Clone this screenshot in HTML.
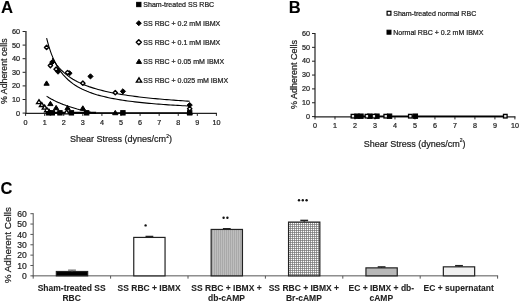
<!DOCTYPE html>
<html><head><meta charset="utf-8"><title>Figure</title>
<style>html,body{margin:0;padding:0;background:#fff;}body{width:520px;height:302px;overflow:hidden;font-family:"Liberation Sans",sans-serif;}svg{display:block;position:absolute;left:0;top:0;filter:blur(0.35px);}</style>
</head><body>
<svg width="520" height="302" viewBox="0 0 520 302" font-family="Liberation Sans, sans-serif"><text x="1.10" y="13.00" font-size="16.7" text-anchor="start" font-weight="bold" fill="#000" stroke="#000" stroke-width="0.08" >A</text>
<line x1="25.95" y1="31.00" x2="25.95" y2="113.90" stroke="#3a3a3a" stroke-width="1.4"/>
<line x1="25.30" y1="113.40" x2="216.90" y2="113.40" stroke="#222" stroke-width="1.1"/>
<line x1="22.60" y1="113.10" x2="25.60" y2="113.10" stroke="#222" stroke-width="1"/>
<text x="20.00" y="115.60" font-size="7.3" text-anchor="end" font-weight="normal" fill="#222" stroke="#222" stroke-width="0.22" >0</text>
<line x1="22.60" y1="99.50" x2="25.60" y2="99.50" stroke="#222" stroke-width="1"/>
<text x="20.00" y="102.00" font-size="7.3" text-anchor="end" font-weight="normal" fill="#222" stroke="#222" stroke-width="0.22" >10</text>
<line x1="22.60" y1="85.90" x2="25.60" y2="85.90" stroke="#222" stroke-width="1"/>
<text x="20.00" y="88.40" font-size="7.3" text-anchor="end" font-weight="normal" fill="#222" stroke="#222" stroke-width="0.22" >20</text>
<line x1="22.60" y1="72.30" x2="25.60" y2="72.30" stroke="#222" stroke-width="1"/>
<text x="20.00" y="74.80" font-size="7.3" text-anchor="end" font-weight="normal" fill="#222" stroke="#222" stroke-width="0.22" >30</text>
<line x1="22.60" y1="58.70" x2="25.60" y2="58.70" stroke="#222" stroke-width="1"/>
<text x="20.00" y="61.20" font-size="7.3" text-anchor="end" font-weight="normal" fill="#222" stroke="#222" stroke-width="0.22" >40</text>
<line x1="22.60" y1="45.10" x2="25.60" y2="45.10" stroke="#222" stroke-width="1"/>
<text x="20.00" y="47.60" font-size="7.3" text-anchor="end" font-weight="normal" fill="#222" stroke="#222" stroke-width="0.22" >50</text>
<line x1="22.60" y1="31.50" x2="25.60" y2="31.50" stroke="#222" stroke-width="1"/>
<text x="20.00" y="34.00" font-size="7.3" text-anchor="end" font-weight="normal" fill="#222" stroke="#222" stroke-width="0.22" >60</text>
<line x1="25.60" y1="113.10" x2="25.60" y2="115.90" stroke="#222" stroke-width="1"/>
<text x="25.60" y="124.90" font-size="7.2" text-anchor="middle" font-weight="normal" fill="#222" stroke="#222" stroke-width="0.22" >0</text>
<line x1="44.68" y1="113.10" x2="44.68" y2="115.90" stroke="#222" stroke-width="1"/>
<text x="44.68" y="124.90" font-size="7.2" text-anchor="middle" font-weight="normal" fill="#222" stroke="#222" stroke-width="0.22" >1</text>
<line x1="63.76" y1="113.10" x2="63.76" y2="115.90" stroke="#222" stroke-width="1"/>
<text x="63.76" y="124.90" font-size="7.2" text-anchor="middle" font-weight="normal" fill="#222" stroke="#222" stroke-width="0.22" >2</text>
<line x1="82.84" y1="113.10" x2="82.84" y2="115.90" stroke="#222" stroke-width="1"/>
<text x="82.84" y="124.90" font-size="7.2" text-anchor="middle" font-weight="normal" fill="#222" stroke="#222" stroke-width="0.22" >3</text>
<line x1="101.92" y1="113.10" x2="101.92" y2="115.90" stroke="#222" stroke-width="1"/>
<text x="101.92" y="124.90" font-size="7.2" text-anchor="middle" font-weight="normal" fill="#222" stroke="#222" stroke-width="0.22" >4</text>
<line x1="121.00" y1="113.10" x2="121.00" y2="115.90" stroke="#222" stroke-width="1"/>
<text x="121.00" y="124.90" font-size="7.2" text-anchor="middle" font-weight="normal" fill="#222" stroke="#222" stroke-width="0.22" >5</text>
<line x1="140.08" y1="113.10" x2="140.08" y2="115.90" stroke="#222" stroke-width="1"/>
<text x="140.08" y="124.90" font-size="7.2" text-anchor="middle" font-weight="normal" fill="#222" stroke="#222" stroke-width="0.22" >6</text>
<line x1="159.16" y1="113.10" x2="159.16" y2="115.90" stroke="#222" stroke-width="1"/>
<text x="159.16" y="124.90" font-size="7.2" text-anchor="middle" font-weight="normal" fill="#222" stroke="#222" stroke-width="0.22" >7</text>
<line x1="178.24" y1="113.10" x2="178.24" y2="115.90" stroke="#222" stroke-width="1"/>
<text x="178.24" y="124.90" font-size="7.2" text-anchor="middle" font-weight="normal" fill="#222" stroke="#222" stroke-width="0.22" >8</text>
<line x1="197.32" y1="113.10" x2="197.32" y2="115.90" stroke="#222" stroke-width="1"/>
<text x="197.32" y="124.90" font-size="7.2" text-anchor="middle" font-weight="normal" fill="#222" stroke="#222" stroke-width="0.22" >9</text>
<line x1="216.40" y1="113.10" x2="216.40" y2="115.90" stroke="#222" stroke-width="1"/>
<text x="216.40" y="124.90" font-size="7.2" text-anchor="middle" font-weight="normal" fill="#222" stroke="#222" stroke-width="0.22" >10</text>
<text x="121.00" y="142.30" font-size="9.0" text-anchor="middle" font-weight="normal" fill="#222" stroke="#222" stroke-width="0.22" >Shear Stress (dynes/cm<tspan font-size="5" dy="-4.2">2</tspan><tspan dy="4.2">)</tspan></text>
<text transform="translate(7.00,71.20) rotate(-90)" font-size="8.8" text-anchor="middle" fill="#222" stroke="#222" stroke-width="0.22">% Adherent cells</text>
<polyline points="52.31,58.14 54.60,61.83 56.89,65.02 59.18,67.80 61.47,70.26 63.76,72.44 66.05,74.40 68.34,76.16 70.63,77.75 72.92,79.20 75.21,80.53 77.50,81.75 79.79,82.87 82.08,83.91 84.37,84.87 86.66,85.77 88.95,86.61 91.24,87.39 93.52,88.12 95.81,88.81 98.10,89.46 100.39,90.08 102.68,90.65 104.97,91.20 107.26,91.72 109.55,92.22 111.84,92.69 114.13,93.13 116.42,93.56 118.71,93.97 121.00,94.36 123.29,94.73 125.58,95.08 127.87,95.42 130.16,95.75 132.45,96.07 134.74,96.37 137.03,96.66 139.32,96.94 141.61,97.21 143.90,97.47 146.19,97.72 148.48,97.96 150.76,98.20 153.05,98.43 155.34,98.64 157.63,98.86 159.92,99.06 162.21,99.26 164.50,99.45 166.79,99.64 169.08,99.82 171.37,100.00 173.66,100.17 175.95,100.34 178.24,100.50 180.53,100.66 182.82,100.81 185.11,100.96 187.40,101.10 189.69,101.25" fill="none" stroke="#000" stroke-width="1.1"/>
<polyline points="46.59,38.14 48.97,46.87 51.36,53.87 53.74,59.61 56.13,64.38 58.51,68.42 60.90,71.87 63.28,74.86 65.67,77.47 68.05,79.76 70.44,81.79 72.82,83.60 75.21,85.23 77.59,86.69 79.98,88.02 82.36,89.23 84.75,90.33 87.13,91.34 89.52,92.27 91.90,93.13 94.29,93.93 96.67,94.67 99.06,95.35 101.44,95.99 103.83,96.59 106.21,97.15 108.60,97.68 110.98,98.17 113.37,98.64 115.75,99.08 118.14,99.49 120.52,99.88 122.91,100.26 125.29,100.61 127.68,100.94 130.06,101.26 132.45,101.57 134.83,101.85 137.22,102.13 139.60,102.39 141.99,102.65 144.37,102.89 146.76,103.12 149.14,103.34 151.53,103.55 153.91,103.76 156.30,103.95 158.68,104.14 161.07,104.32 163.45,104.50 165.84,104.66 168.22,104.83 170.61,104.98 172.99,105.13 175.38,105.28 177.76,105.42 180.15,105.56 182.53,105.69 184.92,105.81 187.30,105.94 189.69,106.06" fill="none" stroke="#000" stroke-width="1.1"/>
<polyline points="46.59,96.11 47.41,96.66 48.24,97.19 49.07,97.71 49.90,98.20 50.72,98.68 51.55,99.15 52.38,99.60 53.20,100.03 54.03,100.46 54.86,100.87 55.68,101.27 56.51,101.66 57.34,102.03 58.16,102.40 58.99,102.76 59.82,103.11 60.64,103.45 61.47,103.79 62.30,104.12 63.12,104.43 63.95,104.75 64.78,105.05 65.60,105.35 66.43,105.65 67.26,105.93 68.08,106.21 68.91,106.49 69.74,106.76 70.57,107.03 71.39,107.29 72.22,107.55 73.05,107.80 73.87,108.05 74.70,108.29 75.53,108.53 76.35,108.76 77.18,109.00 78.01,109.22 78.83,109.45 79.66,109.67 80.49,109.89 81.31,110.10 82.14,110.31 82.97,110.52 83.79,110.72 84.62,110.93 85.45,111.13 86.27,111.32 87.10,111.52 87.93,111.71 88.75,111.90 89.58,112.08 90.41,112.27 91.24,112.45 92.06,112.63 92.89,112.81 93.72,112.98 94.54,113.10 95.37,113.10 96.20,113.10" fill="none" stroke="#000" stroke-width="1.1"/>
<line x1="48.50" y1="112.83" x2="96.20" y2="112.83" stroke="#000" stroke-width="2.0"/>
<line x1="96.20" y1="112.90" x2="189.69" y2="112.90" stroke="#000" stroke-width="1.4"/>
<rect x="46.30" y="110.63" width="4.40" height="4.40" fill="#000" stroke="#000" stroke-width="1.0"/>
<rect x="50.11" y="110.63" width="4.40" height="4.40" fill="#000" stroke="#000" stroke-width="1.0"/>
<rect x="57.74" y="110.63" width="4.40" height="4.40" fill="#000" stroke="#000" stroke-width="1.0"/>
<rect x="69.19" y="110.63" width="4.40" height="4.40" fill="#000" stroke="#000" stroke-width="1.0"/>
<rect x="84.46" y="110.63" width="4.40" height="4.40" fill="#000" stroke="#000" stroke-width="1.0"/>
<rect x="120.71" y="110.63" width="4.40" height="4.40" fill="#000" stroke="#000" stroke-width="1.0"/>
<rect x="187.49" y="110.63" width="4.40" height="4.40" fill="#000" stroke="#000" stroke-width="1.0"/>
<path d="M46.59 80.90L49.23 85.22L43.95 85.22Z" fill="#000" stroke="#000" stroke-width="1.0" stroke-linejoin="miter"/>
<path d="M50.40 101.30L53.04 105.62L47.76 105.62Z" fill="#000" stroke="#000" stroke-width="1.0" stroke-linejoin="miter"/>
<path d="M48.88 108.64L51.52 112.96L46.24 112.96Z" fill="#000" stroke="#000" stroke-width="1.0" stroke-linejoin="miter"/>
<path d="M56.13 105.38L58.77 109.70L53.49 109.70Z" fill="#000" stroke="#000" stroke-width="1.0" stroke-linejoin="miter"/>
<path d="M67.58 105.38L70.22 109.70L64.94 109.70Z" fill="#000" stroke="#000" stroke-width="1.0" stroke-linejoin="miter"/>
<path d="M82.84 105.79L85.48 110.11L80.20 110.11Z" fill="#000" stroke="#000" stroke-width="1.0" stroke-linejoin="miter"/>
<path d="M115.28 110.41L117.92 114.73L112.64 114.73Z" fill="#000" stroke="#000" stroke-width="1.0" stroke-linejoin="miter"/>
<path d="M189.69 110.00L192.33 114.32L187.05 114.32Z" fill="#000" stroke="#000" stroke-width="1.0" stroke-linejoin="miter"/>
<path d="M38.96 99.72L41.38 103.68L36.54 103.68Z" fill="#fff" stroke="#000" stroke-width="1.35" stroke-linejoin="miter"/>
<path d="M41.82 102.58L44.24 106.54L39.40 106.54Z" fill="#fff" stroke="#000" stroke-width="1.35" stroke-linejoin="miter"/>
<path d="M44.68 105.16L47.10 109.12L42.26 109.12Z" fill="#fff" stroke="#000" stroke-width="1.35" stroke-linejoin="miter"/>
<path d="M46.97 107.75L49.39 111.71L44.55 111.71Z" fill="#fff" stroke="#000" stroke-width="1.35" stroke-linejoin="miter"/>
<path d="M66.62 109.92L69.04 113.88L64.20 113.88Z" fill="#fff" stroke="#000" stroke-width="1.35" stroke-linejoin="miter"/>
<path d="M52.31 59.50L54.91 62.10L52.31 64.70L49.71 62.10Z" fill="#000" stroke="#000" stroke-width="1.0" stroke-linejoin="miter"/>
<path d="M58.04 69.02L60.64 71.62L58.04 74.22L55.44 71.62Z" fill="#000" stroke="#000" stroke-width="1.0" stroke-linejoin="miter"/>
<path d="M69.48 70.65L72.08 73.25L69.48 75.85L66.88 73.25Z" fill="#000" stroke="#000" stroke-width="1.0" stroke-linejoin="miter"/>
<path d="M90.47 73.78L93.07 76.38L90.47 78.98L87.87 76.38Z" fill="#000" stroke="#000" stroke-width="1.0" stroke-linejoin="miter"/>
<path d="M122.91 88.74L125.51 91.34L122.91 93.94L120.31 91.34Z" fill="#000" stroke="#000" stroke-width="1.0" stroke-linejoin="miter"/>
<path d="M189.69 102.48L192.29 105.08L189.69 107.68L187.09 105.08Z" fill="#000" stroke="#000" stroke-width="1.0" stroke-linejoin="miter"/>
<path d="M46.59 45.26L48.74 47.41L46.59 49.56L44.44 47.41Z" fill="#fff" stroke="#000" stroke-width="1.4" stroke-linejoin="round"/>
<path d="M50.40 63.35L52.55 65.50L50.40 67.65L48.25 65.50Z" fill="#fff" stroke="#000" stroke-width="1.4" stroke-linejoin="round"/>
<path d="M56.13 67.02L58.28 69.17L56.13 71.32L53.98 69.17Z" fill="#fff" stroke="#000" stroke-width="1.4" stroke-linejoin="round"/>
<path d="M67.58 70.42L69.73 72.57L67.58 74.72L65.43 72.57Z" fill="#fff" stroke="#000" stroke-width="1.4" stroke-linejoin="round"/>
<path d="M82.84 81.03L84.99 83.18L82.84 85.33L80.69 83.18Z" fill="#fff" stroke="#000" stroke-width="1.4" stroke-linejoin="round"/>
<path d="M115.28 90.55L117.43 92.70L115.28 94.85L113.13 92.70Z" fill="#fff" stroke="#000" stroke-width="1.4" stroke-linejoin="round"/>
<path d="M189.69 106.60L191.84 108.75L189.69 110.90L187.54 108.75Z" fill="#fff" stroke="#000" stroke-width="1.4" stroke-linejoin="round"/>
<rect x="136.65" y="2.35" width="4.30" height="4.30" fill="#000" stroke="#000" stroke-width="1.0"/>
<text x="143.30" y="7.00" font-size="7.05" text-anchor="start" font-weight="normal" fill="#222" stroke="#222" stroke-width="0.22" >Sham-treated SS RBC</text>
<path d="M138.80 20.70L141.30 23.20L138.80 25.70L136.30 23.20Z" fill="#000" stroke="#000" stroke-width="1.0" stroke-linejoin="miter"/>
<text x="143.30" y="25.70" font-size="7.05" text-anchor="start" font-weight="normal" fill="#222" stroke="#222" stroke-width="0.22" >SS RBC + 0.2 mM IBMX</text>
<path d="M138.80 39.80L141.30 42.30L138.80 44.80L136.30 42.30Z" fill="#fff" stroke="#000" stroke-width="1.5" stroke-linejoin="round"/>
<text x="143.30" y="44.80" font-size="7.05" text-anchor="start" font-weight="normal" fill="#222" stroke="#222" stroke-width="0.22" >SS RBC + 0.1 mM IBMX</text>
<path d="M139.00 59.17L141.59 63.40L136.41 63.40Z" fill="#000" stroke="#000" stroke-width="1.0" stroke-linejoin="miter"/>
<text x="143.30" y="64.00" font-size="7.05" text-anchor="start" font-weight="normal" fill="#222" stroke="#222" stroke-width="0.22" >SS RBC + 0.05 mM IBMX</text>
<path d="M139.00 77.87L141.59 82.10L136.41 82.10Z" fill="#fff" stroke="#000" stroke-width="1.4" stroke-linejoin="miter"/>
<text x="143.30" y="82.70" font-size="7.05" text-anchor="start" font-weight="normal" fill="#222" stroke="#222" stroke-width="0.22" >SS RBC + 0.025 mM IBMX</text>
<text x="288.80" y="13.00" font-size="16.5" text-anchor="start" font-weight="bold" fill="#000" stroke="#000" stroke-width="0.08" >B</text>
<line x1="315.00" y1="33.00" x2="315.00" y2="117.10" stroke="#222" stroke-width="1.2"/>
<line x1="314.50" y1="116.90" x2="515.40" y2="116.90" stroke="#222" stroke-width="1.2"/>
<line x1="312.00" y1="116.60" x2="315.00" y2="116.60" stroke="#222" stroke-width="1"/>
<text x="309.90" y="118.85" font-size="7.2" text-anchor="end" font-weight="normal" fill="#222" stroke="#222" stroke-width="0.22" >0</text>
<line x1="312.00" y1="102.75" x2="315.00" y2="102.75" stroke="#222" stroke-width="1"/>
<text x="309.90" y="105.00" font-size="7.2" text-anchor="end" font-weight="normal" fill="#222" stroke="#222" stroke-width="0.22" >10</text>
<line x1="312.00" y1="88.90" x2="315.00" y2="88.90" stroke="#222" stroke-width="1"/>
<text x="309.90" y="91.15" font-size="7.2" text-anchor="end" font-weight="normal" fill="#222" stroke="#222" stroke-width="0.22" >20</text>
<line x1="312.00" y1="75.05" x2="315.00" y2="75.05" stroke="#222" stroke-width="1"/>
<text x="309.90" y="77.30" font-size="7.2" text-anchor="end" font-weight="normal" fill="#222" stroke="#222" stroke-width="0.22" >30</text>
<line x1="312.00" y1="61.20" x2="315.00" y2="61.20" stroke="#222" stroke-width="1"/>
<text x="309.90" y="63.45" font-size="7.2" text-anchor="end" font-weight="normal" fill="#222" stroke="#222" stroke-width="0.22" >40</text>
<line x1="312.00" y1="47.35" x2="315.00" y2="47.35" stroke="#222" stroke-width="1"/>
<text x="309.90" y="49.60" font-size="7.2" text-anchor="end" font-weight="normal" fill="#222" stroke="#222" stroke-width="0.22" >50</text>
<line x1="312.00" y1="33.50" x2="315.00" y2="33.50" stroke="#222" stroke-width="1"/>
<text x="309.90" y="35.75" font-size="7.2" text-anchor="end" font-weight="normal" fill="#222" stroke="#222" stroke-width="0.22" >60</text>
<line x1="315.00" y1="116.60" x2="315.00" y2="119.40" stroke="#222" stroke-width="1"/>
<text x="315.00" y="128.30" font-size="7.2" text-anchor="middle" font-weight="normal" fill="#222" stroke="#222" stroke-width="0.22" >0</text>
<line x1="334.99" y1="116.60" x2="334.99" y2="119.40" stroke="#222" stroke-width="1"/>
<text x="334.99" y="128.30" font-size="7.2" text-anchor="middle" font-weight="normal" fill="#222" stroke="#222" stroke-width="0.22" >1</text>
<line x1="354.98" y1="116.60" x2="354.98" y2="119.40" stroke="#222" stroke-width="1"/>
<text x="354.98" y="128.30" font-size="7.2" text-anchor="middle" font-weight="normal" fill="#222" stroke="#222" stroke-width="0.22" >2</text>
<line x1="374.97" y1="116.60" x2="374.97" y2="119.40" stroke="#222" stroke-width="1"/>
<text x="374.97" y="128.30" font-size="7.2" text-anchor="middle" font-weight="normal" fill="#222" stroke="#222" stroke-width="0.22" >3</text>
<line x1="394.96" y1="116.60" x2="394.96" y2="119.40" stroke="#222" stroke-width="1"/>
<text x="394.96" y="128.30" font-size="7.2" text-anchor="middle" font-weight="normal" fill="#222" stroke="#222" stroke-width="0.22" >4</text>
<line x1="414.95" y1="116.60" x2="414.95" y2="119.40" stroke="#222" stroke-width="1"/>
<text x="414.95" y="128.30" font-size="7.2" text-anchor="middle" font-weight="normal" fill="#222" stroke="#222" stroke-width="0.22" >5</text>
<line x1="434.94" y1="116.60" x2="434.94" y2="119.40" stroke="#222" stroke-width="1"/>
<text x="434.94" y="128.30" font-size="7.2" text-anchor="middle" font-weight="normal" fill="#222" stroke="#222" stroke-width="0.22" >6</text>
<line x1="454.93" y1="116.60" x2="454.93" y2="119.40" stroke="#222" stroke-width="1"/>
<text x="454.93" y="128.30" font-size="7.2" text-anchor="middle" font-weight="normal" fill="#222" stroke="#222" stroke-width="0.22" >7</text>
<line x1="474.92" y1="116.60" x2="474.92" y2="119.40" stroke="#222" stroke-width="1"/>
<text x="474.92" y="128.30" font-size="7.2" text-anchor="middle" font-weight="normal" fill="#222" stroke="#222" stroke-width="0.22" >8</text>
<line x1="494.91" y1="116.60" x2="494.91" y2="119.40" stroke="#222" stroke-width="1"/>
<text x="494.91" y="128.30" font-size="7.2" text-anchor="middle" font-weight="normal" fill="#222" stroke="#222" stroke-width="0.22" >9</text>
<line x1="514.90" y1="116.60" x2="514.90" y2="119.40" stroke="#222" stroke-width="1"/>
<text x="514.90" y="128.30" font-size="7.2" text-anchor="middle" font-weight="normal" fill="#222" stroke="#222" stroke-width="0.22" >10</text>
<text x="414.60" y="146.60" font-size="9.0" text-anchor="middle" font-weight="normal" fill="#222" stroke="#222" stroke-width="0.22" >Shear Stress (dynes/cm<tspan font-size="5" dy="-4.2">2</tspan><tspan dy="4.2">)</tspan></text>
<text transform="translate(296.50,74.50) rotate(-90)" font-size="9.0" text-anchor="middle" fill="#222" stroke="#222" stroke-width="0.22">% Adherent Cells</text>
<line x1="352.98" y1="116.18" x2="505.30" y2="116.18" stroke="#000" stroke-width="1.5"/>
<rect x="354.78" y="113.98" width="4.40" height="4.40" fill="#000" stroke="#000" stroke-width="1.0"/>
<rect x="358.78" y="113.98" width="4.40" height="4.40" fill="#000" stroke="#000" stroke-width="1.0"/>
<rect x="367.57" y="113.98" width="4.40" height="4.40" fill="#000" stroke="#000" stroke-width="1.0"/>
<rect x="374.77" y="113.98" width="4.40" height="4.40" fill="#000" stroke="#000" stroke-width="1.0"/>
<rect x="387.36" y="113.98" width="4.40" height="4.40" fill="#000" stroke="#000" stroke-width="1.0"/>
<rect x="413.15" y="113.98" width="4.40" height="4.40" fill="#000" stroke="#000" stroke-width="1.0"/>
<rect x="351.18" y="114.38" width="3.60" height="3.60" fill="#e4e4e4" stroke="#000" stroke-width="1.3"/>
<rect x="365.17" y="114.38" width="3.60" height="3.60" fill="#e4e4e4" stroke="#000" stroke-width="1.3"/>
<rect x="372.17" y="114.38" width="3.60" height="3.60" fill="#e4e4e4" stroke="#000" stroke-width="1.3"/>
<rect x="383.96" y="114.38" width="3.60" height="3.60" fill="#e4e4e4" stroke="#000" stroke-width="1.3"/>
<rect x="408.55" y="114.38" width="3.60" height="3.60" fill="#e4e4e4" stroke="#000" stroke-width="1.3"/>
<rect x="503.50" y="114.38" width="3.60" height="3.60" fill="#e4e4e4" stroke="#000" stroke-width="1.3"/>
<rect x="387.10" y="11.30" width="3.80" height="3.80" fill="#fff" stroke="#000" stroke-width="1.2"/>
<text x="393.20" y="15.70" font-size="7.05" text-anchor="start" font-weight="normal" fill="#222" stroke="#222" stroke-width="0.22" >Sham-treated normal RBC</text>
<rect x="387.00" y="30.20" width="4.00" height="4.00" fill="#000" stroke="#000" stroke-width="1.0"/>
<text x="393.20" y="34.70" font-size="7.05" text-anchor="start" font-weight="normal" fill="#222" stroke="#222" stroke-width="0.22" >Normal RBC + 0.2 mM IBMX</text>
<text x="0.40" y="194.00" font-size="16.5" text-anchor="start" font-weight="bold" fill="#000" stroke="#000" stroke-width="0.08" >C</text>
<line x1="33.20" y1="213.20" x2="33.20" y2="276.35" stroke="#555" stroke-width="1"/>
<line x1="32.70" y1="275.85" x2="498.10" y2="275.85" stroke="#555" stroke-width="1"/>
<line x1="30.40" y1="275.85" x2="33.20" y2="275.85" stroke="#555" stroke-width="1"/>
<text x="26.90" y="279.15" font-size="8.6" text-anchor="end" font-weight="normal" fill="#222" stroke="#222" stroke-width="0.22" >0</text>
<line x1="30.40" y1="265.49" x2="33.20" y2="265.49" stroke="#555" stroke-width="1"/>
<text x="26.90" y="268.79" font-size="8.6" text-anchor="end" font-weight="normal" fill="#222" stroke="#222" stroke-width="0.22" >10</text>
<line x1="30.40" y1="255.13" x2="33.20" y2="255.13" stroke="#555" stroke-width="1"/>
<text x="26.90" y="258.43" font-size="8.6" text-anchor="end" font-weight="normal" fill="#222" stroke="#222" stroke-width="0.22" >20</text>
<line x1="30.40" y1="244.78" x2="33.20" y2="244.78" stroke="#555" stroke-width="1"/>
<text x="26.90" y="248.08" font-size="8.6" text-anchor="end" font-weight="normal" fill="#222" stroke="#222" stroke-width="0.22" >30</text>
<line x1="30.40" y1="234.42" x2="33.20" y2="234.42" stroke="#555" stroke-width="1"/>
<text x="26.90" y="237.72" font-size="8.6" text-anchor="end" font-weight="normal" fill="#222" stroke="#222" stroke-width="0.22" >40</text>
<line x1="30.40" y1="224.06" x2="33.20" y2="224.06" stroke="#555" stroke-width="1"/>
<text x="26.90" y="227.36" font-size="8.6" text-anchor="end" font-weight="normal" fill="#222" stroke="#222" stroke-width="0.22" >50</text>
<line x1="30.40" y1="213.70" x2="33.20" y2="213.70" stroke="#555" stroke-width="1"/>
<text x="26.90" y="217.00" font-size="8.6" text-anchor="end" font-weight="normal" fill="#222" stroke="#222" stroke-width="0.22" >60</text>
<line x1="33.20" y1="275.85" x2="33.20" y2="278.65" stroke="#555" stroke-width="1"/>
<line x1="110.60" y1="275.85" x2="110.60" y2="278.65" stroke="#555" stroke-width="1"/>
<line x1="188.00" y1="275.85" x2="188.00" y2="278.65" stroke="#555" stroke-width="1"/>
<line x1="265.40" y1="275.85" x2="265.40" y2="278.65" stroke="#555" stroke-width="1"/>
<line x1="342.80" y1="275.85" x2="342.80" y2="278.65" stroke="#555" stroke-width="1"/>
<line x1="420.20" y1="275.85" x2="420.20" y2="278.65" stroke="#555" stroke-width="1"/>
<line x1="497.60" y1="275.85" x2="497.60" y2="278.65" stroke="#555" stroke-width="1"/>
<text transform="translate(10.70,245.20) rotate(-90)" font-size="9.95" text-anchor="middle" fill="#222" stroke="#222" stroke-width="0.22">% Adherent Cells</text>
<defs>
<pattern id="vl" width="2" height="2" patternUnits="userSpaceOnUse"><rect width="2" height="2" fill="#bebebe"/><rect width="1" height="2" fill="#a9a9a9"/></pattern>
<pattern id="gr" width="2" height="2" patternUnits="userSpaceOnUse"><rect width="2" height="2" fill="#ffffff"/><rect width="0.68" height="2" fill="#707070"/><rect width="2" height="0.68" fill="#707070"/></pattern>
</defs>
<rect x="56.35" y="271.50" width="31.30" height="4.35" fill="#000" stroke="#222" stroke-width="1.2"/>
<line x1="72.00" y1="271.50" x2="72.00" y2="270.15" stroke="#666" stroke-width="1"/>
<line x1="68.10" y1="270.15" x2="75.90" y2="270.15" stroke="#666" stroke-width="1.2"/>
<rect x="133.75" y="237.42" width="31.30" height="38.43" fill="#fff" stroke="#222" stroke-width="1.2"/>
<line x1="149.40" y1="237.42" x2="149.40" y2="236.49" stroke="#222" stroke-width="1"/>
<line x1="145.50" y1="236.49" x2="153.30" y2="236.49" stroke="#222" stroke-width="1.5"/>
<rect x="211.15" y="229.44" width="31.30" height="46.41" fill="url(#vl)" stroke="#222" stroke-width="1.2"/>
<line x1="226.80" y1="229.44" x2="226.80" y2="228.72" stroke="#222" stroke-width="1"/>
<line x1="222.90" y1="228.72" x2="230.70" y2="228.72" stroke="#222" stroke-width="1.5"/>
<rect x="288.55" y="222.09" width="31.30" height="53.76" fill="url(#gr)" stroke="#222" stroke-width="1.2"/>
<line x1="304.20" y1="222.09" x2="304.20" y2="220.43" stroke="#222" stroke-width="1"/>
<line x1="300.30" y1="220.43" x2="308.10" y2="220.43" stroke="#222" stroke-width="1.5"/>
<rect x="365.95" y="267.87" width="31.30" height="7.98" fill="#b8b8b8" stroke="#222" stroke-width="1.2"/>
<line x1="381.60" y1="267.87" x2="381.60" y2="266.94" stroke="#222" stroke-width="1"/>
<line x1="377.70" y1="266.94" x2="385.50" y2="266.94" stroke="#222" stroke-width="1.5"/>
<rect x="443.35" y="266.84" width="31.30" height="9.01" fill="#f0f0f0" stroke="#222" stroke-width="1.2"/>
<line x1="459.00" y1="266.84" x2="459.00" y2="265.70" stroke="#222" stroke-width="1"/>
<line x1="455.10" y1="265.70" x2="462.90" y2="265.70" stroke="#222" stroke-width="1.5"/>
<text x="71.70" y="290.50" font-size="8.5" text-anchor="middle" font-weight="bold" fill="#222" stroke="#222" stroke-width="0.08" >Sham-treated SS</text>
<text x="71.70" y="301.20" font-size="8.5" text-anchor="middle" font-weight="bold" fill="#222" stroke="#222" stroke-width="0.08" >RBC</text>
<text x="149.10" y="290.50" font-size="8.5" text-anchor="middle" font-weight="bold" fill="#222" stroke="#222" stroke-width="0.08" >SS RBC + IBMX</text>
<text x="226.50" y="290.50" font-size="8.5" text-anchor="middle" font-weight="bold" fill="#222" stroke="#222" stroke-width="0.08" >SS RBC + IBMX +</text>
<text x="226.50" y="301.20" font-size="8.5" text-anchor="middle" font-weight="bold" fill="#222" stroke="#222" stroke-width="0.08" >db-cAMP</text>
<text x="303.90" y="290.50" font-size="8.5" text-anchor="middle" font-weight="bold" fill="#222" stroke="#222" stroke-width="0.08" >SS RBC + IBMX +</text>
<text x="303.90" y="301.20" font-size="8.5" text-anchor="middle" font-weight="bold" fill="#222" stroke="#222" stroke-width="0.08" >Br-cAMP</text>
<text x="381.30" y="290.50" font-size="8.5" text-anchor="middle" font-weight="bold" fill="#222" stroke="#222" stroke-width="0.08" >EC + IBMX + db-</text>
<text x="381.30" y="301.20" font-size="8.5" text-anchor="middle" font-weight="bold" fill="#222" stroke="#222" stroke-width="0.08" >cAMP</text>
<text x="458.70" y="290.50" font-size="8.5" text-anchor="middle" font-weight="bold" fill="#222" stroke="#222" stroke-width="0.08" >EC + supernatant</text>
<circle cx="145.60" cy="225.40" r="1.2" fill="#111"/>
<circle cx="223.60" cy="217.70" r="1.2" fill="#111"/>
<circle cx="227.40" cy="217.70" r="1.2" fill="#111"/>
<circle cx="299.00" cy="200.20" r="1.2" fill="#111"/>
<circle cx="302.80" cy="200.20" r="1.2" fill="#111"/>
<circle cx="306.60" cy="200.20" r="1.2" fill="#111"/></svg>
</body></html>
